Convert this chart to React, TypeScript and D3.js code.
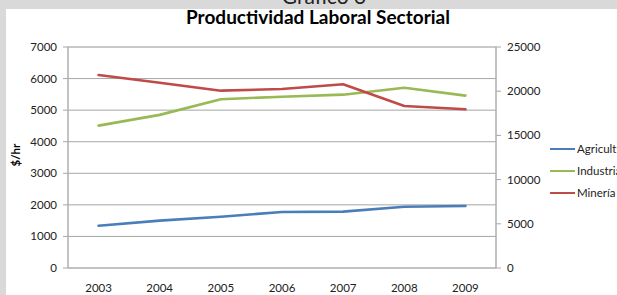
import React from 'react';
import * as d3 from 'd3';

const years = ['2003', '2004', '2005', '2006', '2007', '2008', '2009'];
const agricultura = [1340, 1500, 1625, 1775, 1785, 1940, 1965];
const industria = [4510, 4850, 5345, 5425, 5490, 5710, 5460];
// Minería va en el eje derecho
const mineria = [21830, 20960, 20060, 20250, 20780, 18330, 17950];
const leftTicks = [0, 1000, 2000, 3000, 4000, 5000, 6000, 7000];
const rightTicks = [0, 5000, 10000, 15000, 20000, 25000];
const seriesNames = ['Agricultura', 'Industria', 'Minería'];
const seriesColors = ['#4A7EBB', '#98B954', '#BE4B48'];

const W = 617;
const H = 295;
const left = 68;
const right = 496;
const top = 47;
const bottom = 268;
const font = 'Lato, "Liberation Sans", sans-serif';

const App: React.FC = () => {
  const x = d3.scaleBand<string>().domain(years).range([left, right]).padding(0);
  const yL = d3.scaleLinear().domain([0, 7000]).range([bottom, top]);
  const yR = d3.scaleLinear().domain([0, 25000]).range([bottom, top]);
  const cx = (d: string) => (x(d) ?? 0) + x.bandwidth() / 2;

  const lineL = d3.line<number>().x((d, i) => cx(years[i])).y((d) => yL(d));
  const lineR = d3.line<number>().x((d, i) => cx(years[i])).y((d) => yR(d));

  const paths = [lineL(agricultura), lineL(industria), lineR(mineria)];

  return (
    <svg width={W} height={H} style={{ position: 'absolute', left: 0, top: 0 }} fontFamily={font}>
      <rect x={0} y={0} width={W} height={H} fill="#D9D9D9" />
      <rect x={6} y={9} width={W - 6} height={H - 9} fill="#FFFFFF" />
      <text x={324} y={4} textAnchor="middle" fontSize={21} fill="#222">Gráfico 3</text>
      <text x={318} y={24} textAnchor="middle" fontSize={19} fontWeight="bold" fill="#000">
        Productividad Laboral Sectorial
      </text>

      {leftTicks.map((t) => (
        <g key={'l' + t}>
          {t > 0 && (
            <line x1={left} x2={right} y1={yL(t)} y2={yL(t)} stroke="#A6A6A6" strokeWidth={1} />
          )}
          <line x1={left - 5} x2={left} y1={yL(t)} y2={yL(t)} stroke="#A6A6A6" />
          <text x={57} y={yL(t)} dy="0.35em" textAnchor="end" fontSize={11.5} fill="#222">{t}</text>
        </g>
      ))}
      {rightTicks.map((t) => (
        <g key={'r' + t}>
          <line x1={right} x2={right + 5} y1={yR(t)} y2={yR(t)} stroke="#A6A6A6" />
          <text x={507} y={yR(t)} dy="0.35em" fontSize={11.5} fill="#222">{t}</text>
        </g>
      ))}
      <rect x={left} y={top} width={right - left} height={bottom - top} fill="none" stroke="#BFBFBF" />
      <line x1={left} x2={left} y1={top} y2={bottom} stroke="#A6A6A6" />
      <line x1={right} x2={right} y1={top} y2={bottom} stroke="#A6A6A6" />
      <line x1={left} x2={right} y1={bottom} y2={bottom} stroke="#A6A6A6" />

      {years.map((yr) => (
        <text key={yr} x={cx(yr)} y={292} textAnchor="middle" fontSize={11.5} fill="#222">{yr}</text>
      ))}

      <text transform="translate(20,155) rotate(-90)" textAnchor="middle" fontSize={11.5} fontWeight="bold" fill="#000">$/hr</text>

      {paths.map((p, i) => (
        <path key={i} d={p ?? ''} fill="none" stroke={seriesColors[i]} strokeWidth={2.6} strokeLinejoin="round" strokeLinecap="round" />
      ))}

      {seriesNames.map((n, i) => (
        <g key={n}>
          <line x1={550} x2={575} y1={149 + i * 22} y2={149 + i * 22} stroke={seriesColors[i]} strokeWidth={2} />
          <text x={577} y={149 + i * 22} dy="0.35em" fontSize={11.5} fill="#222">{n}</text>
        </g>
      ))}
    </svg>
  );
};

export default App;
